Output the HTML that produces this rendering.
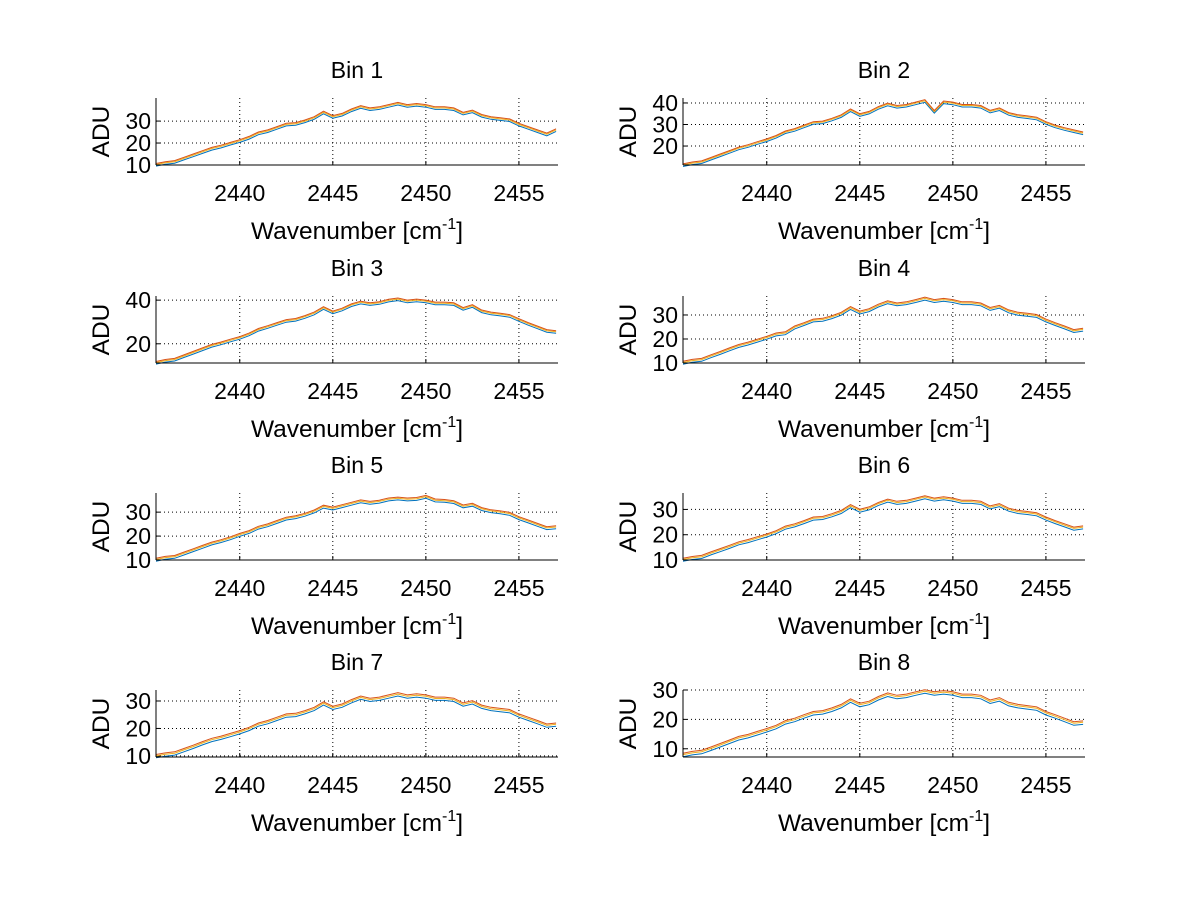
<!DOCTYPE html>
<html><head><meta charset="utf-8"><style>
body{margin:0;background:#fff}
svg text{font-family:"Liberation Sans",sans-serif;fill:#000}
</style></head><body>
<svg id="fig" width="1200" height="901" xmlns="http://www.w3.org/2000/svg"></svg>
<script>
const xStart = 2435.5, xStep = 0.5;
const xTicks = [2440, 2445, 2450, 2455];
const seriesOffsets = [-0.7, 0, 0.5];
const seriesColors = ["#0072BD", "#EDB120", "#D95319"];
const binTitles = ["Bin 1","Bin 2","Bin 3","Bin 4","Bin 5","Bin 6","Bin 7","Bin 8"];
const yLimits = [[10,40.5],[11.2,42.3],[11.2,41.9],[10,37.9],[10,38],[10,36.5],[9.6,34],[7.2,30]];
const yTickSets = [[10,20,30],[20,30,40],[20,40],[10,20,30],[10,20,30],[10,20,30],[10,20,30],[10,20,30]];
const bin1 = [10.2,11,11.5,13,14.5,16,17.5,18.5,19.8,21,22.5,24.5,25.5,27,28.5,28.8,30,31.5,34,32,33,35,36.5,35.5,36,37,38,37,37.5,37,36,36,35.5,33.5,34.5,32.5,31.5,31,30.5,28.5,27,25.5,24,26];
const bin2 = [11.2,12.1,12.6,14.2,15.8,17.4,19,20.1,21.5,22.8,24.4,26.5,27.6,29.2,30.8,31.1,32.4,34,36.7,34.5,35.6,37.8,39.4,38.3,38.8,39.9,41,36,40.4,39.9,38.8,38.8,38.3,36.1,37.2,35,34,33.5,32.9,30.8,29.2,28,27,26];
const bin3 = [11.4,12.3,12.8,14.4,16,17.6,19.2,20.3,21.6,22.8,24.4,26.5,27.8,29.2,30.6,31.1,32.4,34,36.5,34.5,35.8,37.8,39,38.3,38.8,39.9,40.5,39.5,40,39.5,38.6,38.6,38.3,36.1,37.4,35,34,33.5,32.9,31,29.2,27.6,26,25.5];
const bin4 = [10.2,11,11.4,12.9,14.3,15.8,17.2,18.2,19.4,20.6,22,22.5,24.9,26.3,27.8,28.1,29.2,30.6,33,31.1,32.1,34,35.4,34.5,35,35.9,36.9,35.9,36.4,35.9,35,35,34.5,32.6,33.5,31.6,30.6,30.2,29.7,27.8,26.3,24.9,23.4,24];
const bin5 = [10.2,11,11.4,12.8,14.2,15.6,17,18,19.2,20.6,21.8,23.6,24.6,26,27.4,28,29,30.4,32.4,31.6,32.6,33.6,34.6,34,34.5,35.4,35.8,35.4,35.6,36.5,35,34.8,34.3,32.5,33.2,31.4,30.5,30,29.4,27.6,26.2,24.8,23.4,23.8];
const bin6 = [10.2,10.9,11.3,12.7,14,15.3,16.7,17.6,18.7,19.8,21.1,22.9,23.8,25.1,26.5,26.7,27.8,29.1,31.4,29.6,30.5,32.3,33.6,32.7,33.1,34,34.9,34,34.5,34,33.1,33.1,32.7,30.9,31.8,30,29.1,28.7,28.2,26.5,25.1,23.8,22.5,23];
const bin7 = [10,10.6,11,12.2,13.4,14.7,15.9,16.7,17.7,18.7,19.9,21.5,22.4,23.6,24.8,25,26,27.2,29.2,27.6,28.4,30,31.3,30.5,30.9,31.7,32.5,31.7,32.1,31.7,30.9,30.9,30.5,28.8,29.6,28,27.2,26.8,26.4,24.8,23.6,22.4,21.1,21.5];
const bin8 = [8,8.6,9,10.1,11.3,12.5,13.7,14.4,15.4,16.4,17.5,19.1,19.9,21.1,22.2,22.5,23.4,24.6,26.5,25,25.7,27.3,28.5,27.7,28.1,28.9,29.6,28.9,29.3,28.9,28.1,28.1,27.7,26.1,26.9,25.3,24.6,24.2,23.8,22.2,21.1,19.9,18.7,19];
const bins = [bin1,bin2,bin3,bin4,bin5,bin6,bin7,bin8];
const xMin = 2435.5, xMax = 2457.1;
const NS = "http://www.w3.org/2000/svg";
const svg = document.getElementById("fig");
function mk(tag, attrs, parent){const e=document.createElementNS(NS,tag);for(const k in attrs)e.setAttribute(k,attrs[k]);(parent||svg).appendChild(e);return e;}
const colLeft = [156, 683], axW = 402, rowTop = [98, 296, 493, 690], axH = 67;
bins.forEach((data, b) => {
  const L = colLeft[b % 2], T = rowTop[Math.floor(b / 2)], B = T + axH, R = L + axW;
  const [y0, y1] = yLimits[b];
  const sx = v => L + (v - xMin) / (xMax - xMin) * axW;
  const sy = v => B - (v - y0) / (y1 - y0) * axH;
  const g = mk("g", {});
  
  
  const t = mk("text", {x: L + axW / 2, y: T - 20, "font-size": 23, "text-anchor": "middle"}, g);
  t.textContent = binTitles[b];
  
  
  xTicks.forEach(v => {
    const x = sx(v);
    mk("line", {x1: x, x2: x, y1: T, y2: B, stroke: "#000", "stroke-width": 1, "stroke-dasharray": "1,3"}, g);
    mk("line", {x1: x, x2: x, y1: B, y2: B - 4, stroke: "#000"}, g);
    const tl = mk("text", {x: x, y: B + 36, "font-size": 23, "text-anchor": "middle"}, g);
    tl.textContent = v;
    
    
  });
  yTickSets[b].forEach(v => {
    const y = sy(v);
    mk("line", {x1: L, x2: R, y1: y, y2: y, stroke: "#000", "stroke-width": 1, "stroke-dasharray": "1,3"}, g);
    mk("line", {x1: L, x2: L + 4, y1: y, y2: y, stroke: "#000"}, g);
    const tl = mk("text", {x: L - 5, y: y + 8, "font-size": 23, "text-anchor": "end"}, g);
    tl.textContent = v;
    
    
  });
  seriesOffsets.forEach((off, s) => {
    const pts = data.map((v, i) => sx(xStart + i * xStep).toFixed(1) + "," + sy(v + off).toFixed(1)).join(" ");
    const pl = mk("polyline", {points: pts, fill: "none", stroke: seriesColors[s], "stroke-width": 1}, g);
    
    
  });
  mk("line", {x1: L, x2: L, y1: T, y2: B, stroke: "#000"}, g);
  mk("line", {x1: L, x2: R, y1: B, y2: B, stroke: "#000"}, g);
  const xl = mk("text", {x: L + axW / 2, y: B + 74, "font-size": 24.5, "text-anchor": "middle"}, g);
  xl.innerHTML = 'Wavenumber [cm<tspan dy="-10" font-size="16">-1</tspan><tspan dy="10">]</tspan>';
  
  
  const yl = mk("text", {x: 0, y: 0, "font-size": 24.5, "text-anchor": "middle", transform: "translate(" + (L - 47) + "," + (T + axH / 2) + ") rotate(-90)"}, g);
  yl.textContent = "ADU";
  
  
});
</script>
</body></html>
